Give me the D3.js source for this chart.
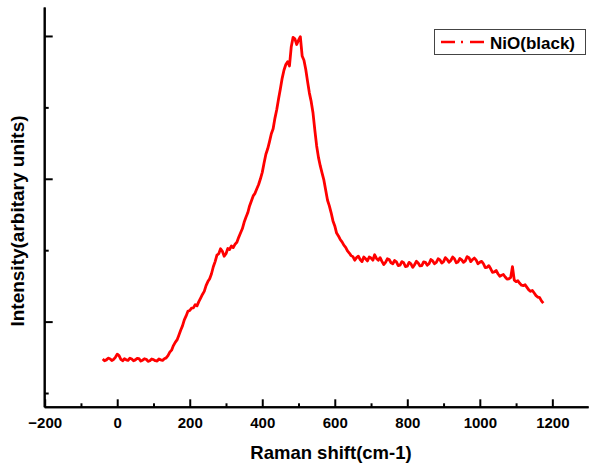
<!DOCTYPE html>
<html>
<head>
<meta charset="utf-8">
<script src="https://cdn.jsdelivr.net/npm/d3@7"></script>
<style>
  html, body { margin: 0; padding: 0; background: #fff; }
  svg { display: block; font-family: "Liberation Sans", Arial, sans-serif; }
</style>
</head>
<body>
<svg id="chart" width="589" height="465"></svg>
<script>
// Raman shift (cm-1)
const shift = [
  -40, -35, -30, -25, -20, -15, -10, -5, 0, 5,
  10, 15, 20, 25, 30, 35, 40, 45, 50, 55,
  60, 65, 70, 75, 80, 85, 90, 95, 100, 105,
  110, 115, 120, 125, 130, 135, 140, 145, 150, 155,
  160, 165, 170, 175, 180, 185, 190, 195, 200, 205,
  210, 215, 220, 225, 230, 235, 240, 245, 250, 255,
  260, 265, 270, 275, 280, 285, 290, 295, 300, 305,
  310, 315, 320, 325, 330, 335, 340, 345, 350, 355,
  360, 365, 370, 375, 380, 385, 390, 395, 400, 405,
  410, 415, 420, 425, 430, 435, 440, 445, 450, 455,
  460, 465, 470, 475, 480, 485, 490, 495, 500, 505,
  510, 515, 520, 525, 530, 535, 540, 545, 550, 555,
  560, 565, 570, 575, 580, 585, 590, 595, 600, 605,
  610, 615, 620, 625, 630, 635, 640, 645, 650, 655,
  660, 665, 670, 675, 680, 685, 690, 695, 700, 705,
  710, 715, 720, 725, 730, 735, 740, 745, 750, 755,
  760, 765, 770, 775, 780, 785, 790, 795, 800, 805,
  810, 815, 820, 825, 830, 835, 840, 845, 850, 855,
  860, 865, 870, 875, 880, 885, 890, 895, 900, 905,
  910, 915, 920, 925, 930, 935, 940, 945, 950, 955,
  960, 965, 970, 975, 980, 985, 990, 995, 1000, 1005,
  1010, 1015, 1020, 1025, 1030, 1035, 1040, 1045, 1050, 1055,
  1060, 1065, 1070, 1075, 1080, 1085, 1090, 1095, 1100, 1105,
  1110, 1115, 1120, 1125, 1130, 1135, 1140, 1145, 1150, 1155,
  1160, 1165, 1170, 1175
];
// Intensity (arbitrary units)
const intensity = [
  238, 226, 232, 244, 240, 228, 235, 250, 272, 262,
  236, 226, 240, 232, 228, 244, 238, 226, 232, 242,
  240, 224, 230, 240, 236, 222, 226, 238, 234, 226,
  224, 238, 232, 228, 240, 246, 262, 286, 300, 332,
  355, 372, 405, 440, 470, 512, 540, 572, 578, 595,
  596, 618, 610, 640, 665, 690, 712, 752, 780, 800,
  835, 884, 920, 965, 975, 1010, 992, 958, 975, 1012,
  1005, 1030, 1018, 1042, 1055, 1090, 1120, 1150, 1195, 1230,
  1262, 1310, 1345, 1380, 1398, 1430, 1460, 1500, 1545, 1610,
  1672, 1710, 1760, 1815, 1850, 1925, 1985, 2060, 2130, 2205,
  2262, 2300, 2320, 2290, 2425, 2490, 2480, 2440, 2470, 2495,
  2360, 2330, 2265, 2180, 2100, 2040, 1960, 1840, 1730, 1650,
  1590, 1540, 1490, 1420, 1350, 1310, 1262, 1205, 1170, 1120,
  1100, 1075, 1058, 1035, 1020, 995, 980, 962, 955, 930,
  948, 958, 935, 920, 952, 940, 925, 952, 945, 930,
  968, 942, 930, 948, 922, 900, 915, 940, 935, 912,
  905, 928, 918, 892, 895, 920, 912, 885, 888, 915,
  905, 880, 898, 922, 910, 890, 892, 918, 915, 895,
  905, 935, 925, 905, 915, 940, 932, 910, 920, 948,
  935, 915, 928, 952, 940, 912, 918, 942, 932, 915,
  925, 955, 948, 920, 935, 945, 930, 905, 915, 922,
  905, 878, 880, 892, 870, 845, 848, 858, 835, 818,
  825, 830, 812, 798, 800, 808, 885, 790, 780, 786,
  768, 755, 752, 758, 740, 722, 712, 718, 700, 682,
  672, 668, 645, 630
];
const seriesName = "NiO(black)";
const xTicks = [-200, 0, 200, 400, 600, 800, 1000, 1200];
const xMinorTicks = [-100, 100, 300, 500, 700, 900, 1100];
const yMajorTicks = [500, 1500, 2500];
const yMinorTicks = [0, 1000, 2000];
const xTitle = "Raman shift(cm-1)";
const yTitle = "Intensity(arbitary units)";

const data = shift.map((s, i) => ({ x: s, y: intensity[i] }));

const svg = d3.select("#chart");
const x = d3.scaleLinear().domain([-200, 1300]).range([44.7, 588.6]);
const y = d3.scaleLinear().domain([-100, 2700]).range([407.3, 7.4]);

// Curve
svg.append("path")
  .datum(data)
  .attr("fill", "none")
  .attr("stroke", "#ff0000")
  .attr("stroke-width", 2.8)
  .attr("stroke-linejoin", "round")
  .attr("d", d3.line().x(d => x(d.x)).y(d => y(d.y)));

// X axis
const gx = svg.append("g").attr("transform", `translate(0,${y(-100)})`);
gx.call(d3.axisBottom(x).tickValues(xTicks).tickSize(-8).tickPadding(0).tickFormat(d3.format("d")));
gx.append("g").call(d3.axisBottom(x).tickValues(xMinorTicks).tickSize(-4).tickFormat(""));
gx.selectAll(".domain").attr("stroke", "#000").attr("stroke-width", 2);
gx.selectAll(".tick line").attr("stroke", "#000").attr("stroke-width", 2);
gx.selectAll(".domain").attr("d", `M${x(-200)},0H${x(1300)}`);
gx.selectAll(".tick text")
  .attr("y", 21).attr("dy", 0)
  .attr("font-size", 15).attr("font-weight", "bold").attr("fill", "#000")
  .attr("font-family", "Liberation Sans, Arial, sans-serif");

// Y axis
const gy = svg.append("g").attr("transform", `translate(${x(-200)},0)`);
gy.call(d3.axisLeft(y).tickValues(yMajorTicks).tickSize(-8).tickFormat(""));
gy.append("g").call(d3.axisLeft(y).tickValues(yMinorTicks).tickSize(-4).tickFormat(""));
gy.selectAll(".domain").attr("stroke", "#000").attr("stroke-width", 2)
  .attr("d", `M0,${y(2700)}V${y(-100)}`);
gy.selectAll(".tick line").attr("stroke", "#000").attr("stroke-width", 2);

// Axis titles
svg.append("text")
  .attr("x", 331).attr("y", 459)
  .attr("text-anchor", "middle")
  .attr("font-size", 18.5).attr("font-weight", "bold")
  .text(xTitle);
svg.append("text")
  .attr("transform", "translate(24,221) rotate(-90)")
  .attr("text-anchor", "middle")
  .attr("font-size", 19).attr("font-weight", "bold")
  .text(yTitle);

// Legend
const lg = svg.append("g");
lg.append("rect")
  .attr("x", 434.5).attr("y", 29.5).attr("width", 151).attr("height", 25)
  .attr("fill", "#fff").attr("stroke", "#444").attr("stroke-width", 1);
lg.append("line")
  .attr("x1", 441).attr("x2", 484).attr("y1", 42).attr("y2", 42)
  .attr("stroke", "#ff0000").attr("stroke-width", 2.6)
  .attr("stroke-dasharray", "14,6,2,7");
lg.append("text")
  .attr("x", 490).attr("y", 48.5)
  .attr("font-size", 17).attr("font-weight", "bold")
  .text(seriesName);
</script>
</body>
</html>
